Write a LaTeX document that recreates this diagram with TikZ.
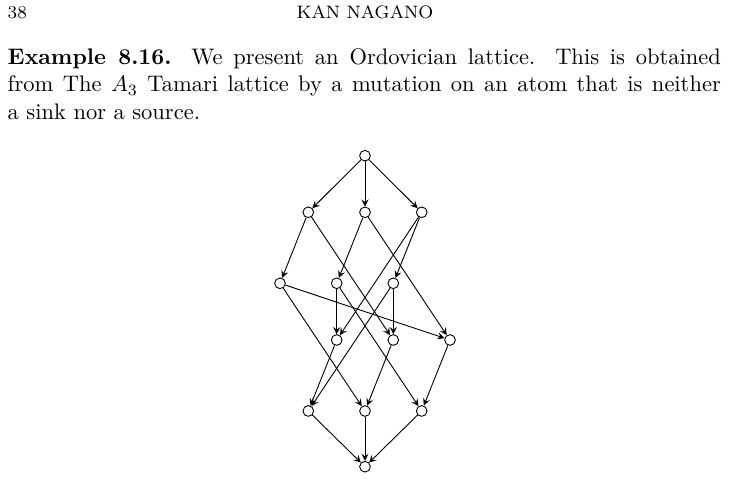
\documentclass[tikz,border=0pt]{standalone}
\usepackage{amsmath}
\begin{document}
\begin{tikzpicture}[x=0.4444pt,y=-0.4444pt,>=stealth,
		vertex/.style={circle,draw,fill=white,minimum size=4.75pt,inner sep=0pt}]
		\useasboundingbox (0,0) rectangle (729,501);
		\node[anchor=base west,inner sep=0pt] (pagenum) at (7.3,18.3) {\footnotesize 38};
		\node[anchor=base,inner sep=0pt] (runhead) at (365,18.3) {\footnotesize KAN NAGANO};
		\node[anchor=base west,inner sep=0pt,text width=316.9pt,align=justify] (example) at (7.3,65)
			{\fontsize{10}{11}\selectfont\textbf{Example 8.16.} We present an Ordovician lattice. This is obtained\linebreak from The $A_3$ Tamari lattice by a mutation on an atom that is neither\linebreak a sink nor a source.};
		\node[vertex] (t) at (365,155.7) {};
		\node[vertex] (a1) at (308.3,212.3) {};
		\node[vertex] (a2) at (365,212.3) {};
		\node[vertex] (a3) at (421.7,212.3) {};
		\node[vertex] (b1) at (280,283.3) {};
		\node[vertex] (b2) at (336.7,283.3) {};
		\node[vertex] (b3) at (393.3,283.3) {};
		\node[vertex] (c1) at (336.7,340) {};
		\node[vertex] (c2) at (393.3,340) {};
		\node[vertex] (c3) at (450,340) {};
		\node[vertex] (d1) at (308.3,411) {};
		\node[vertex] (d2) at (365,411) {};
		\node[vertex] (d3) at (421.7,411) {};
		\node[vertex] (e) at (365,466.7) {};
		\foreach \u/\v in {t/a1, t/a2, t/a3, a1/b1, a1/c2, a2/b2, a2/c3, a3/b3, a3/c1,
			b1/c3, b1/d2, b2/c1, b2/d3, b3/c2, b3/d1, c1/d1, c2/d2, c3/d3, d1/e, d2/e, d3/e}
			\draw[->] (\u) -- (\v);
	\end{tikzpicture}
\end{document}
